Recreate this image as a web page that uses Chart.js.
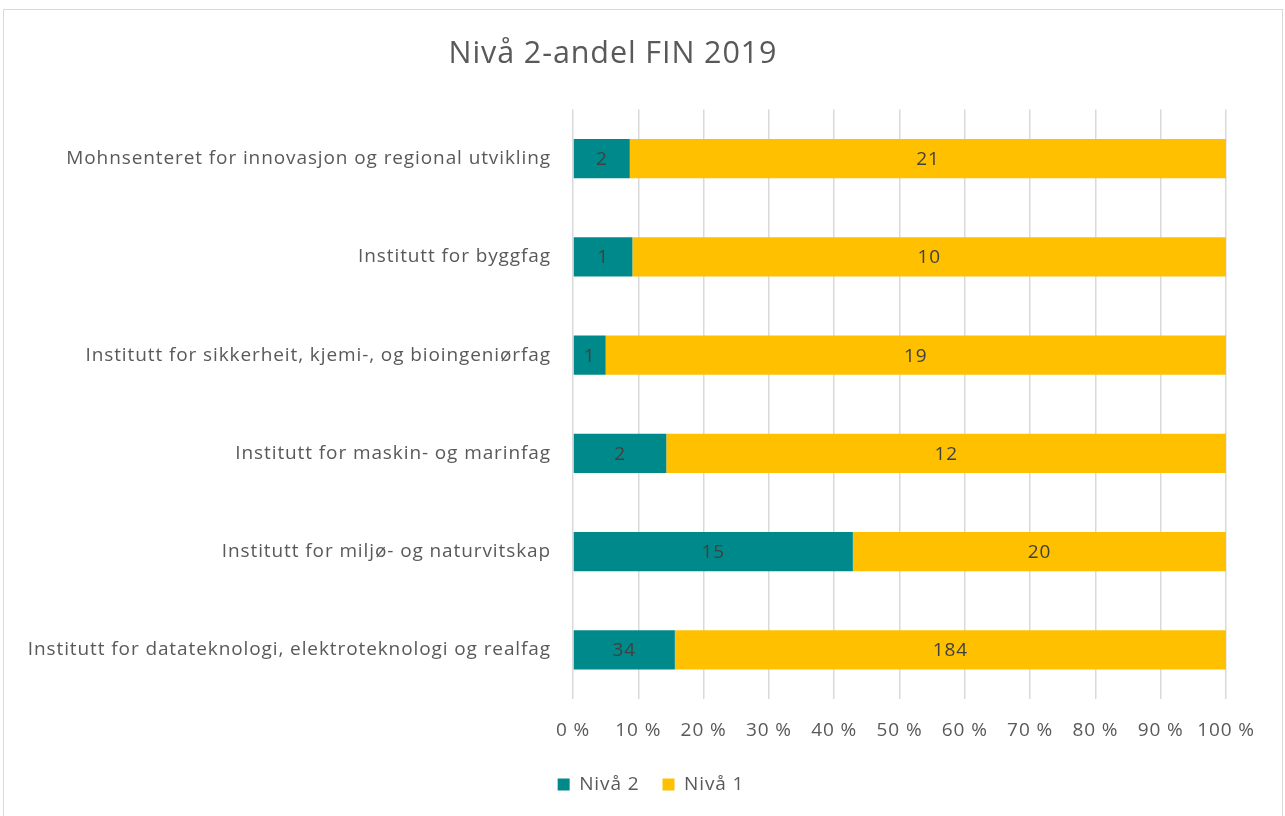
<!DOCTYPE html>
<html>
<head>
<meta charset="utf-8">
<script src="https://cdn.jsdelivr.net/npm/chart.js@4/dist/chart.umd.min.js"></script>
<style>
html,body{margin:0;padding:0;background:#fff;}
#wrap{position:relative;width:1285px;height:816px;}
#frame{position:absolute;left:3px;top:9px;width:1278px;height:812px;border:1px solid #d9d9d9;pointer-events:none;}
canvas{position:absolute;left:0;top:0;}
</style>
</head>
<body>
<div id="wrap">
<canvas id="c" width="1285" height="816"></canvas>
<div id="frame"></div>
</div>
<script>
const categories = [
  "Mohnsenteret for innovasjon og regional utvikling",
  "Institutt for byggfag",
  "Institutt for sikkerheit, kjemi-, og bioingeniørfag",
  "Institutt for maskin- og marinfag",
  "Institutt for miljø- og naturvitskap",
  "Institutt for datateknologi, elektroteknologi og realfag"
];
const nivaa2 = [2, 1, 1, 2, 15, 34];
const nivaa1 = [21, 10, 19, 12, 20, 184];
const seriesNames = ["Nivå 2", "Nivå 1"];
const titleText = "Nivå 2-andel FIN 2019";

const totals = nivaa2.map((v, i) => v + nivaa1[i]);
const pct2 = nivaa2.map((v, i) => v / totals[i] * 100);
const pct1 = nivaa1.map((v, i) => v / totals[i] * 100);

const FONT = "'Open Sans', sans-serif";
const TXT = "#595959";

const spacingPlugin = {
  id: 'spacing',
  beforeLayout(chart) { chart.ctx.letterSpacing = '0.9px'; },
  beforeDraw(chart) { chart.ctx.letterSpacing = '0.9px'; },
  afterLayout(chart) {
    if (chart.legend) { chart.legend.left += 38; chart.legend.right += 38; }
  }
};

const labelPlugin = {
  id: 'countLabels',
  afterDatasetsDraw(chart) {
    const ctx = chart.ctx;
    ctx.save();
    ctx.font = "19px " + FONT;
    ctx.fillStyle = "#404040";
    ctx.textAlign = "center";
    ctx.textBaseline = "middle";
    chart.data.datasets.forEach((ds, di) => {
      const meta = chart.getDatasetMeta(di);
      meta.data.forEach((bar, i) => {
        const x = (bar.x + bar.base) / 2;
        ctx.fillText(String(ds.counts[i]), x, bar.y + 1);
      });
    });
    ctx.restore();
  }
};

new Chart(document.getElementById('c'), {
  type: 'bar',
  data: {
    labels: categories,
    datasets: [
      { label: seriesNames[0], data: pct2, counts: nivaa2, backgroundColor: "#00898A", borderWidth: 0,
        categoryPercentage: 1, barPercentage: 0.4 },
      { label: seriesNames[1], data: pct1, counts: nivaa1, backgroundColor: "#FFC000", borderWidth: 0,
        categoryPercentage: 1, barPercentage: 0.4 }
    ]
  },
  options: {
    indexAxis: 'y',
    responsive: false,
    animation: false,
    devicePixelRatio: 1,
    layout: { padding: { top: 36, right: 59, bottom: 12, left: 0 } },
    plugins: {
      title: {
        display: true, text: titleText, color: TXT,
        font: { family: FONT, size: 30.5, weight: 'normal' },
        padding: { top: 0, bottom: 37 }
      },
      legend: {
        position: 'bottom',
        labels: {
          color: TXT, font: { family: FONT, size: 19 },
          boxWidth: 12, boxHeight: 12, padding: 23
        }
      },
      tooltip: { enabled: false }
    },
    scales: {
      x: {
        stacked: true, min: 0, max: 100,
        border: { display: false },
        grid: { color: "#d9d9d9", lineWidth: 1.5, drawTicks: false },
        ticks: {
          stepSize: 10, padding: 20, color: TXT,
          font: { family: FONT, size: 19 },
          callback: v => v + " %"
        },
        afterFit: s => { s.height = 53; }
      },
      y: {
        stacked: true,
        border: { display: false },
        grid: { display: false, drawTicks: false },
        ticks: { padding: 22, color: TXT, font: { family: FONT, size: 19 } },
        afterFit: s => { s.width = 573; }
      }
    }
  },
  plugins: [spacingPlugin, labelPlugin]
});
</script>
</body>
</html>
